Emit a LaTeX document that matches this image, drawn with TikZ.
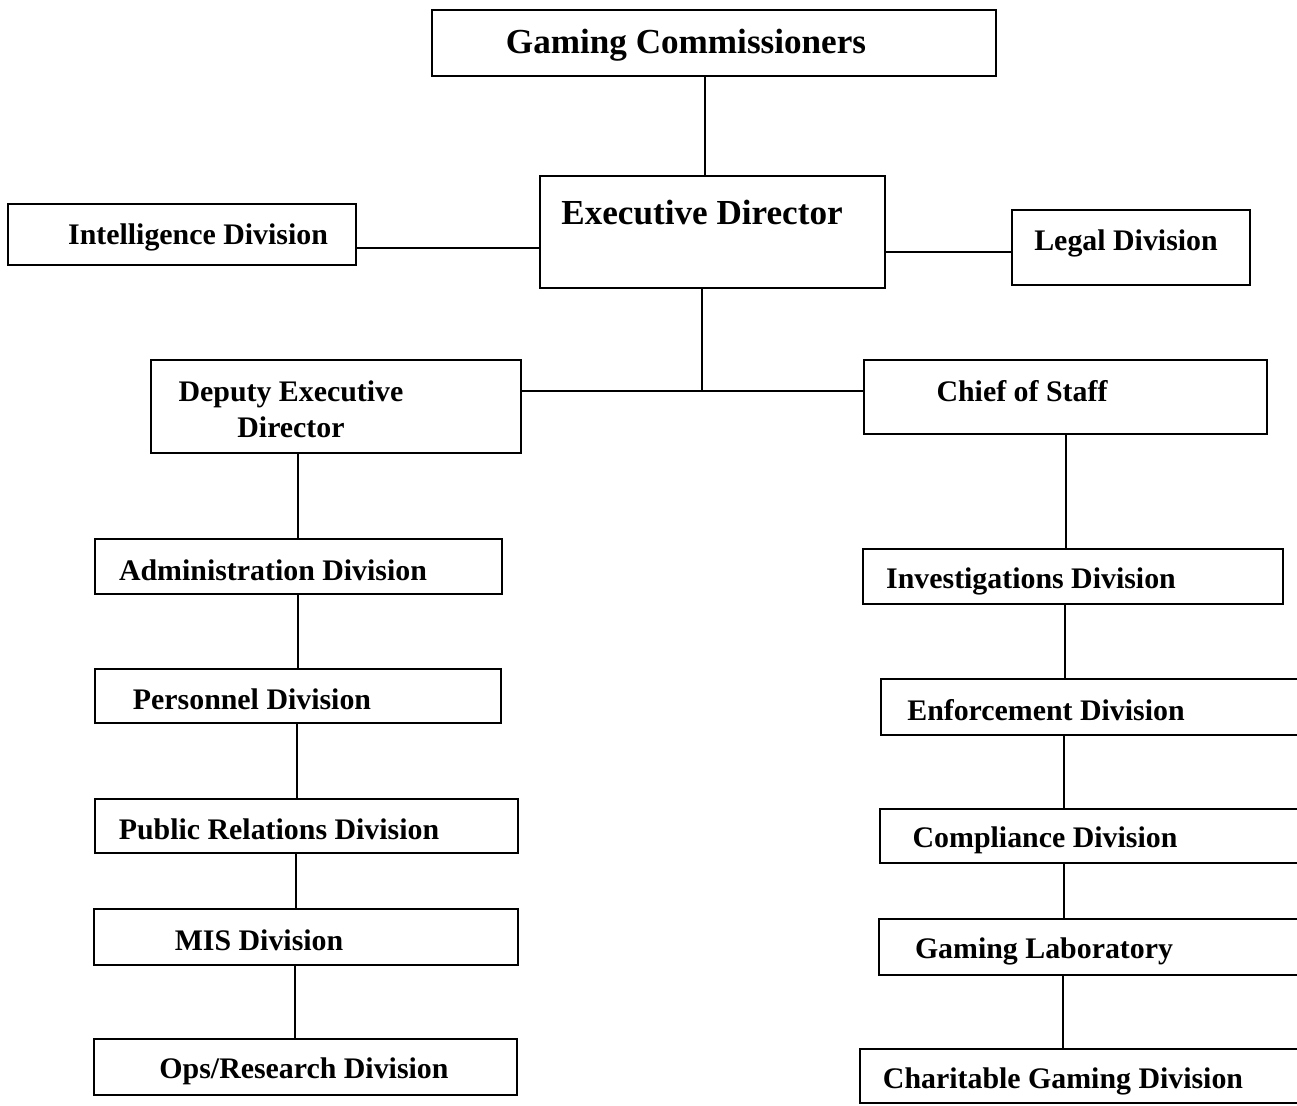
\documentclass[tikz,border=0pt]{standalone}
\usepackage{fontspec}
\setmainfont{Liberation Serif}
\usetikzlibrary{positioning,fit}

\begin{document}
\begin{tikzpicture}[x=0.02cm,y=-0.02cm,line width=1pt,
        box/.style={draw,rectangle,inner sep=0pt},
        lbl/.style={inner sep=0pt,yshift=-1.7pt,font=\bfseries\fontsize{17}{20.4}\selectfont,align=center},
        biglbl/.style={lbl,font=\bfseries\fontsize{20}{24}\selectfont}]
      \useasboundingbox (0,0) rectangle (1297,1105);
      \clip (0,0) rectangle (1297,1105);
      %% top of the chart
      \node[box,fit={(432,10) (996,76)}] (gc) {};
      \node[biglbl] (gc-t) at (686,42) {Gaming Commissioners};
      \node[box,fit={(540,176) (885,288)}] (ed) {};
      \node[biglbl] (ed-t) at (702,210) {Executive Director};
      \node[box,fit={(8,204) (356,265)}] (intel) {};
      \node[lbl] (intel-t) at (198,234) {Intelligence Division};
      \node[box,fit={(1012,210) (1250,285)}] (legal) {};
      \node[lbl] (legal-t) at (1126,240) {Legal Division};
      \node[box,fit={(151,360) (521,453)}] (dep) {};
      \node[lbl] (dep-t) at (291,406) {Deputy Executive\\Director};
      \node[box,fit={(864,360) (1267,434)}] (chief) {};
      \node[lbl] (chief-t) at (1022,388) {Chief of Staff};
      %% left column
      \node[box,fit={(95,539) (502,594)}] (adm) {};
      \node[lbl] (adm-t) at (273,567) {Administration Division};
      \node[box,fit={(95,669) (501,723)}] (pers) {};
      \node[lbl] (pers-t) at (252,696) {Personnel Division};
      \node[box,fit={(95,799) (518,853)}] (pr) {};
      \node[lbl] (pr-t) at (279,826) {Public Relations Division};
      \node[box,fit={(94,909) (518,965)}] (mis) {};
      \node[lbl] (mis-t) at (259,937) {MIS Division};
      \node[box,fit={(94,1039) (517,1095)}] (ops) {};
      \node[lbl] (ops-t) at (304,1068) {Ops/Research Division};
      %% right column (cut off at the page edge)
      \node[box,fit={(863,549) (1283,604)}] (inv) {};
      \node[lbl] (inv-t) at (1031,578) {Investigations Division};
      \node[box,fit={(881,679) (1320,735)}] (enf) {};
      \node[lbl] (enf-t) at (1046,707) {Enforcement Division};
      \node[box,fit={(880,809) (1320,863)}] (comp) {};
      \node[lbl] (comp-t) at (1045,837) {Compliance Division};
      \node[box,fit={(879,919) (1320,975)}] (lab) {};
      \node[lbl] (lab-t) at (1044,948) {Gaming Laboratory};
      \node[box,fit={(860,1049) (1320,1103)}] (char) {};
      \node[lbl] (char-t) at (1063,1078) {Charitable Gaming Division};
      %% connectors
      \coordinate (top) at (705,0);
      \coordinate (jn) at (702,391);
      \coordinate (lft) at (0,248);
      \coordinate (rgt) at (0,252);
      \draw (gc.south -| top) -- (ed.north -| top);
      \draw (intel.east |- lft) -- (ed.west |- lft);
      \draw (ed.east |- rgt) -- (legal.west |- rgt);
      \draw (ed.south -| jn) -- (jn);
      \draw (dep.east |- jn) -- (chief.west |- jn);
      \foreach \a/\b/\x in {dep/adm/298,adm/pers/298,pers/pr/297,pr/mis/296,mis/ops/295,
          chief/inv/1066,inv/enf/1065,enf/comp/1064,comp/lab/1064,lab/char/1063}{
        \coordinate (c) at (\x,0);
        \draw (\a.south -| c) -- (\b.north -| c);
      }
    \end{tikzpicture}
\end{document}
